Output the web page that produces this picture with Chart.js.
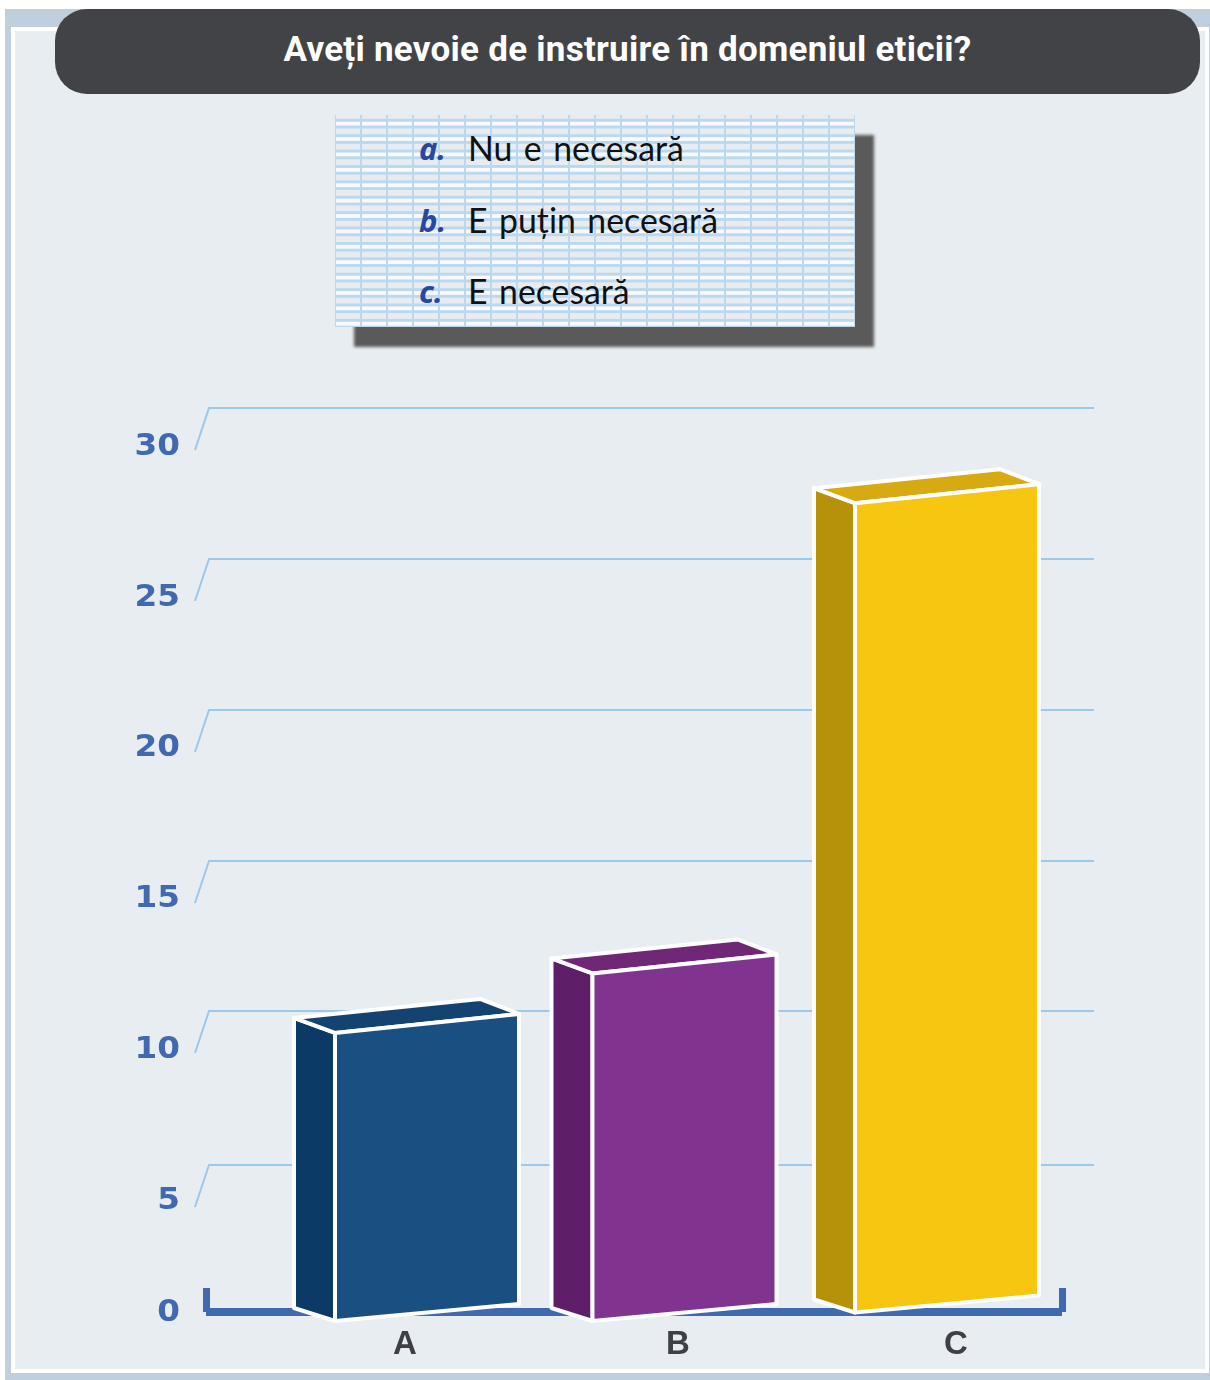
<!DOCTYPE html>
<html lang="ro"><head><meta charset="utf-8">
<style>
html,body{margin:0;padding:0;background:#fff}
#stage{position:relative;width:1210px;height:1380px;overflow:hidden}
#frame{position:absolute;left:5px;top:9px;width:1205px;height:1371px;background:#bfcfde}
#inner{position:absolute;left:11px;top:27px;width:1198px;height:1346px;box-sizing:border-box;border:4px solid #fff;background:#e8edf1}
#title{position:absolute;left:55px;top:9px;width:1145px;height:85px;border-radius:32px;background:#424346;color:#fff;
 font:700 35px Roboto,sans-serif;text-align:center;line-height:81px;letter-spacing:.26px}
#legend{position:absolute;left:335px;top:115px;width:520px;height:212px;box-shadow:19px 20px 3px #5a5a5a;
 background-color:#e8ebef;
 background-image:
  linear-gradient(90deg,transparent 0,transparent 24px,#bcd8ef 24px,#bcd8ef 27px),
  repeating-linear-gradient(180deg,transparent 0,transparent 4px,#bcd8ef 4px,#bcd8ef 6.5px,#f7f9fc 6.5px,#f7f9fc 10.5px,#bcd8ef 10.5px,#bcd8ef 13px,transparent 13px,transparent 15.4px);
 background-size:26px 100%,100% 15.4px;background-position:1px 0,0 0}
.row{position:absolute;left:84px;font:35px Lato,sans-serif;color:#111;white-space:pre;line-height:40px}
.row i{position:absolute;left:0;top:-2px;font:italic 700 31px "Noto Sans",sans-serif;color:#2a47a0}
.row span{position:absolute;left:49px;top:-2px;transform-origin:0 50%;transform:scaleX(.965);word-spacing:3px}
canvas{position:absolute;left:0;top:0}
</style></head><body>
<div id="stage">
<div id="frame"></div><div id="inner"></div>
<div id="title">Aveți nevoie de instruire în domeniul eticii?</div>
<div id="legend">
 <div class="row" style="top:14px"><i>a.</i><span>Nu e necesară</span></div>
 <div class="row" style="top:86px"><i>b.</i><span>E puțin necesară</span></div>
 <div class="row" style="top:157px"><i>c.</i><span>E necesară</span></div>
</div>
<canvas id="c" width="1210" height="1380"></canvas>
</div>
<script src="https://cdn.jsdelivr.net/npm/chart.js@4"></script>
<script>
const categories = ['A','B','C'];
const values = [9.6, 11.57, 27.16];
const tickValues = [0,5,10,15,20,25,30];
const frontColors = ['#1a4f82','#813390','#f6c610'];
const sideColors  = ['#0b3a66','#5f1f68','#b5920a'];
const topColors   = ['#144371','#702776','#d6aa10'];
const GRID='#9cc8ea', AXIS='#4169b0', INK='#3f4045';

const bars3d = {
 id:'bars3d',
 beforeDatasetDraw(chart,args){
  const y=chart.scales.y, ctx=chart.ctx;
  ctx.save();
  ctx.lineWidth=2; ctx.strokeStyle=GRID;
  tickValues.filter(v=>v>0).forEach(v=>{
   const p=Math.round(y.getPixelForValue(v))+(v===5?3:0);
   ctx.beginPath();ctx.moveTo(195,p+42);ctx.lineTo(209,p);ctx.lineTo(1094,p);ctx.stroke();
  });
  ctx.fillStyle=AXIS;
  const b=y.getPixelForValue(0);
  ctx.fillRect(206,b-5,856,8);
  ctx.fillRect(203,b-25,7,24);
  ctx.fillRect(1059,b-25,7,24);
  ctx.font='bold 30px "DejaVu Sans"';ctx.textAlign='right';ctx.textBaseline='middle';
  tickValues.forEach(v=>{
   ctx.save();
   ctx.translate(180,y.getPixelForValue(v)+(v===0?0:39));
   ctx.scale(1.09,1);
   ctx.fillText(String(v),0,0);
   ctx.restore();
  });
  ctx.fillStyle=INK;ctx.font='bold 33px "Liberation Sans"';ctx.textAlign='center';
  const labelShift=[-22,-9,9];
  const meta=chart.getDatasetMeta(args.index);
  meta.data.forEach((el,i)=>{
   ctx.fillText(categories[i],el.x+labelShift[i],1345);
  });
  const nudgeX=[0,-2.5,0], lift=[0.5,0.5,9];
  const D=41;
  meta.data.forEach((el,i)=>{
   const w=el.width, l=el.x-w/2+nudgeX[i], r=l+w;
   const t=el.y, bt=el.base-lift[i];
   const tl=t+9.5, tr=t-9.5, bl=bt+8.5, br=bt-8.5;
   ctx.lineJoin='round';ctx.lineWidth=4;ctx.strokeStyle='#fff';
   const poly=(pts,c)=>{ctx.beginPath();pts.forEach((q,k)=>k?ctx.lineTo(q[0],q[1]):ctx.moveTo(q[0],q[1]));ctx.closePath();ctx.fillStyle=c;ctx.fill();ctx.stroke();};
   poly([[l,tl],[l-D,tl-15],[l-D,bl-13],[l,bl]],sideColors[i]);
   poly([[l,tl],[l-D,tl-15],[r-39,tr-15],[r,tr]],topColors[i]);
   poly([[l,tl],[r,tr],[r,br],[l,bl]],el.options.backgroundColor);
  });
  ctx.restore();
  return false;
 }
};

new Chart(document.getElementById('c'),{
 type:'bar',
 data:{labels:categories,datasets:[{data:values,backgroundColor:frontColors,barPercentage:1,categoryPercentage:0.7077}]},
 options:{
  responsive:false,animation:false,
  layout:{padding:{left:297,right:133,top:408,bottom:67}},
  plugins:{legend:{display:false},title:{display:false},tooltip:{enabled:false}},
  scales:{
   x:{display:false},
   y:{display:false,min:0,max:30,ticks:{stepSize:5}}
  }
 },
 plugins:[bars3d]
});
</script>
</body></html>
